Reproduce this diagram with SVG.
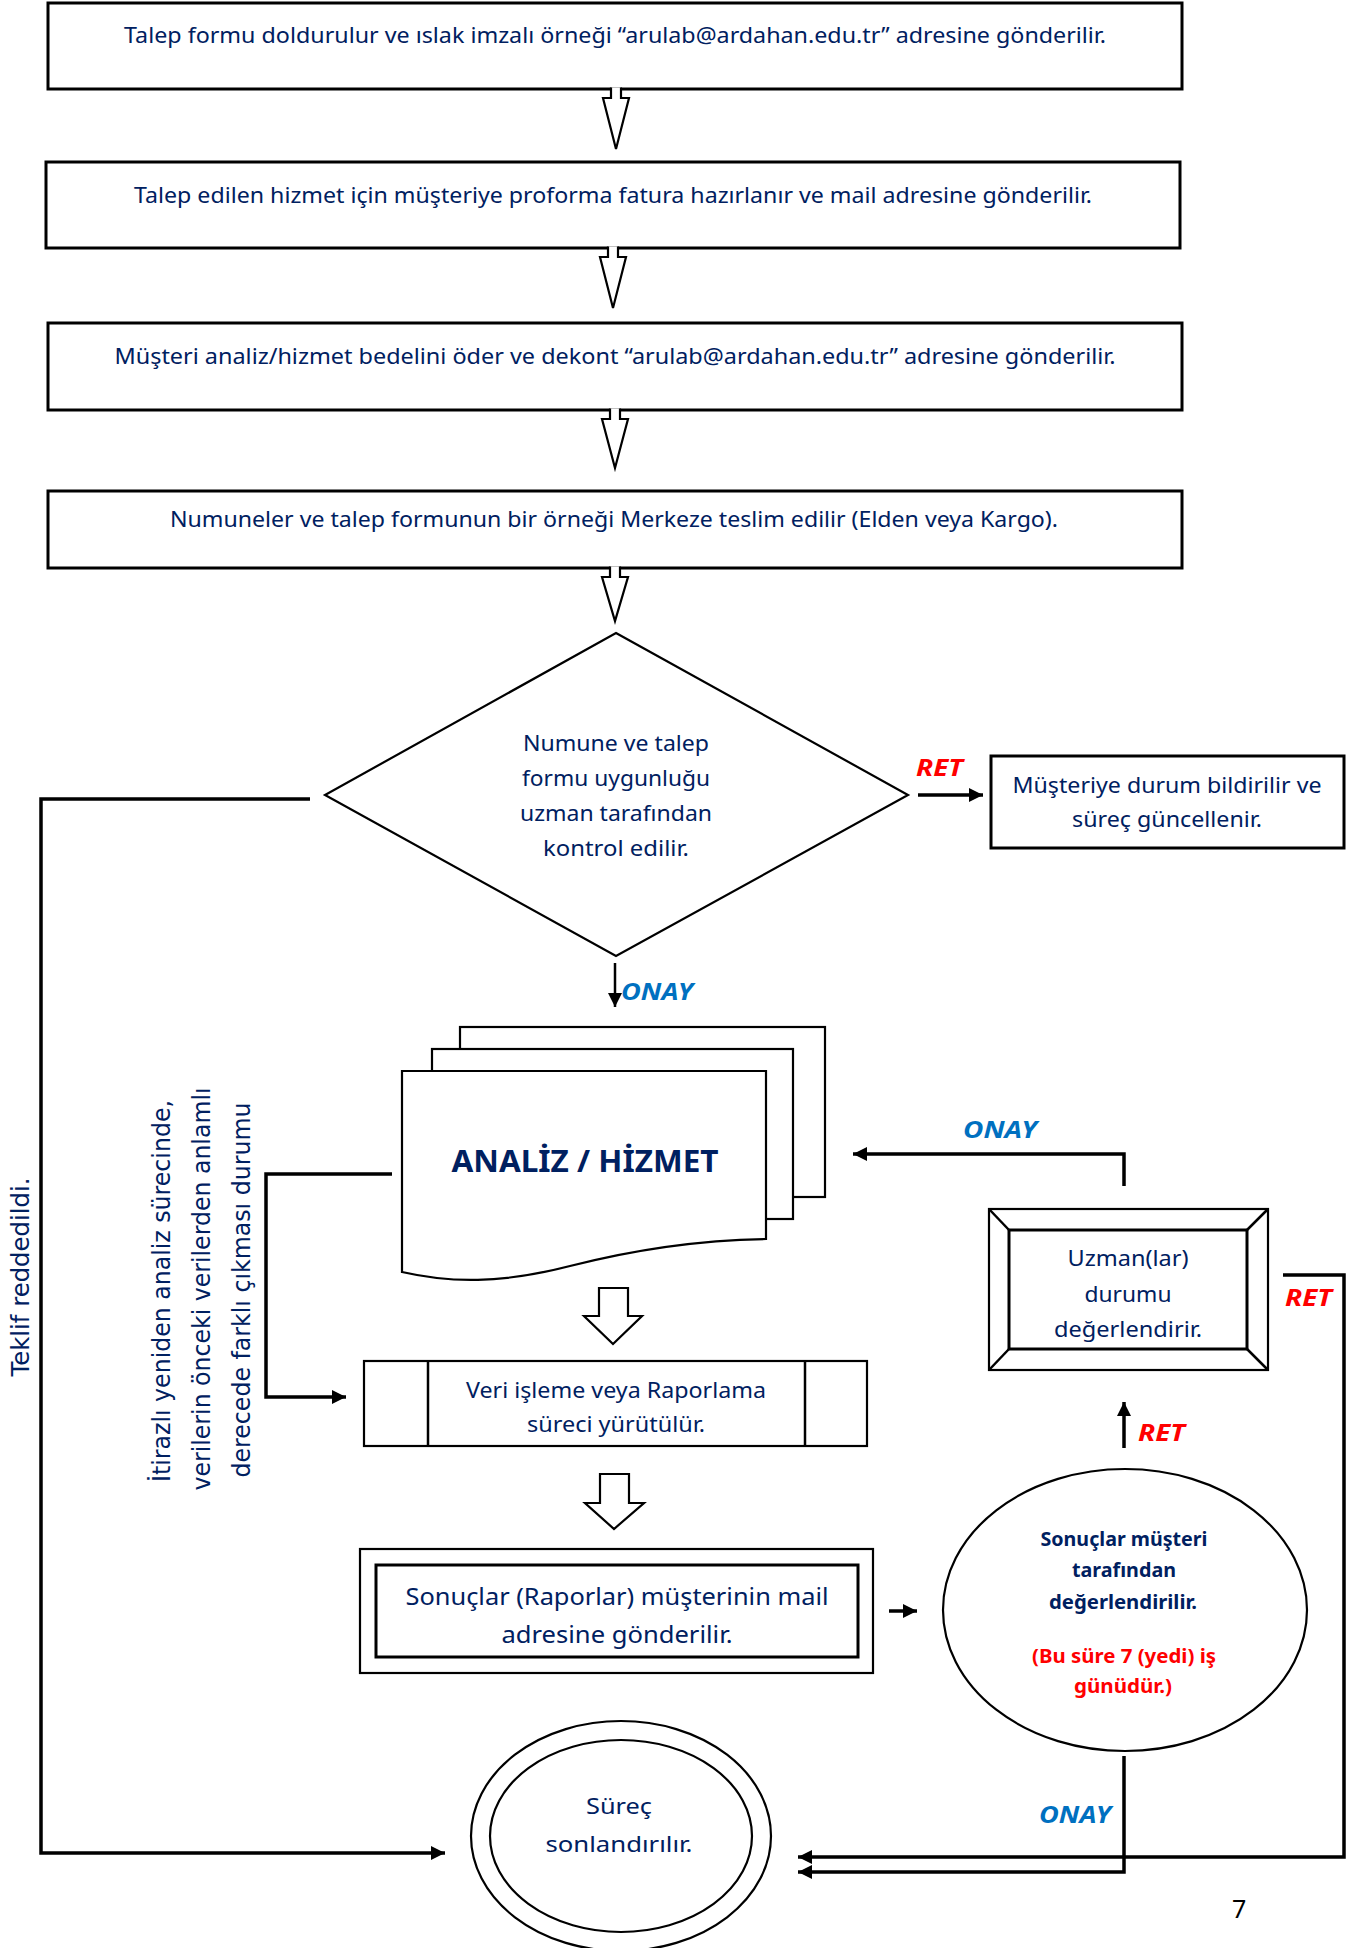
<svg xmlns="http://www.w3.org/2000/svg" width="1360" height="1948" viewBox="0 0 1360 1948">
<style>
.bg{fill:#fff}
.box{fill:#fff;stroke:#000;stroke-width:3}
.thin{fill:#fff;stroke:#000;stroke-width:2.2}
.t{font-family:"Noto Sans","Open Sans","Liberation Sans",sans-serif;font-size:21px;fill:#002060;text-anchor:middle}
.tb{font-family:"Noto Sans","Open Sans","Liberation Sans",sans-serif;font-size:19px;font-weight:bold;fill:#002060;text-anchor:middle}
.red{fill:#ff0000}
.rot{font-family:"DejaVu Sans","Verdana",sans-serif;font-size:24px;fill:#002060;text-anchor:middle}
.onay{font-family:"Noto Sans","Open Sans","Liberation Sans",sans-serif;font-size:23px;font-weight:bold;font-style:italic;fill:#0070c0}
.ret{font-family:"Noto Sans","Open Sans","Liberation Sans",sans-serif;font-size:23px;font-weight:bold;font-style:italic;fill:#ff0000}
.ln{fill:none;stroke:#000;stroke-width:3.5}
.ln2{fill:none;stroke:#000;stroke-width:2.5}
.barrow{fill:#fff;stroke:#000;stroke-width:2.2;stroke-linejoin:miter}
</style>
<defs>
<marker id="ah" markerUnits="userSpaceOnUse" markerWidth="16" markerHeight="16" refX="14" refY="7" orient="auto">
<path d="M0,0 L14,7 L0,14 Z" fill="#000"/>
</marker>
</defs>
<rect class="bg" x="0" y="0" width="1360" height="1948"/>

<g id="n1">
<rect class="box" x="48" y="3" width="1134" height="86"/>
<text class="t" x="615" y="43" textLength="982" lengthAdjust="spacingAndGlyphs">Talep formu doldurulur ve ıslak imzalı örneği “arulab@ardahan.edu.tr” adresine gönderilir.</text>
</g>
<g id="n2">
<rect class="box" x="46" y="162" width="1134" height="86"/>
<text class="t" x="613" y="203" textLength="958" lengthAdjust="spacingAndGlyphs">Talep edilen hizmet için müşteriye proforma fatura hazırlanır ve mail adresine gönderilir.</text>
</g>
<g id="n3">
<rect class="box" x="48" y="323" width="1134" height="87"/>
<text class="t" x="615" y="364" textLength="1001" lengthAdjust="spacingAndGlyphs">Müşteri analiz/hizmet bedelini öder ve dekont “arulab@ardahan.edu.tr” adresine gönderilir.</text>
</g>
<g id="n4">
<rect class="box" x="48" y="491" width="1134" height="77"/>
<text class="t" x="614" y="527" textLength="888" lengthAdjust="spacingAndGlyphs">Numuneler ve talep formunun bir örneği Merkeze teslim edilir (Elden veya Kargo).</text>
</g>
<g id="n5">
<polygon class="thin" points="616,633 908,795 616,956 325,795"/>
<text class="t" x="616" y="751" textLength="186" lengthAdjust="spacingAndGlyphs">Numune ve talep</text>
<text class="t" x="616" y="786" textLength="188" lengthAdjust="spacingAndGlyphs">formu uygunluğu</text>
<text class="t" x="616" y="821" textLength="192" lengthAdjust="spacingAndGlyphs">uzman tarafından</text>
<text class="t" x="616" y="856" textLength="146" lengthAdjust="spacingAndGlyphs">kontrol edilir.</text>
</g>
<g id="n6">
<rect class="box" x="991" y="756" width="353" height="92"/>
<text class="t" x="1167" y="793" textLength="309" lengthAdjust="spacingAndGlyphs">Müşteriye durum bildirilir ve</text>
<text class="t" x="1167" y="827" textLength="190" lengthAdjust="spacingAndGlyphs">süreç güncellenir.</text>
</g>
<g id="n7">
<rect class="thin" x="460" y="1027" width="365" height="170"/>
<rect class="thin" x="432" y="1049" width="361" height="170"/>
<path class="thin" d="M402,1071 H766 V1239 C700,1240 640,1248 570,1266 C500,1284 450,1283 402,1272 Z"/>
<text class="tb" x="585" y="1172" style="font-size:31px" textLength="267" lengthAdjust="spacingAndGlyphs">ANALİZ / HİZMET</text>
</g>
<g id="n8">
<rect class="thin" x="364" y="1361" width="503" height="85"/>
<line class="ln2" x1="428" y1="1361" x2="428" y2="1446"/>
<line class="ln2" x1="805" y1="1361" x2="805" y2="1446"/>
<text class="t" x="616" y="1398" textLength="300" lengthAdjust="spacingAndGlyphs">Veri işleme veya Raporlama</text>
<text class="t" x="616" y="1432" textLength="178" lengthAdjust="spacingAndGlyphs">süreci yürütülür.</text>
</g>
<g id="n9">
<rect class="thin" x="360" y="1549" width="513" height="124"/>
<rect class="box" x="376" y="1565" width="482" height="92"/>
<text class="t" x="617" y="1605" style="font-size:23px" textLength="423" lengthAdjust="spacingAndGlyphs">Sonuçlar (Raporlar) müşterinin mail</text>
<text class="t" x="617" y="1643" style="font-size:23px" textLength="231" lengthAdjust="spacingAndGlyphs">adresine gönderilir.</text>
</g>
<g id="n10">
<rect class="thin" x="989" y="1209" width="279" height="161"/>
<rect class="box" x="1009" y="1230" width="238" height="119"/>
<line class="ln2" x1="989" y1="1209" x2="1009" y2="1230"/>
<line class="ln2" x1="1268" y1="1209" x2="1247" y2="1230"/>
<line class="ln2" x1="989" y1="1370" x2="1009" y2="1349"/>
<line class="ln2" x1="1268" y1="1370" x2="1247" y2="1349"/>
<text class="t" x="1128" y="1266" textLength="121" lengthAdjust="spacingAndGlyphs">Uzman(lar)</text>
<text class="t" x="1128" y="1302" textLength="87" lengthAdjust="spacingAndGlyphs">durumu</text>
<text class="t" x="1128" y="1337" textLength="148" lengthAdjust="spacingAndGlyphs">değerlendirir.</text>
</g>
<g id="n11">
<ellipse class="thin" cx="1125" cy="1610" rx="182" ry="141"/>
<text class="tb" x="1124" y="1546" textLength="167" lengthAdjust="spacingAndGlyphs">Sonuçlar müşteri</text>
<text class="tb" x="1124" y="1577" textLength="104" lengthAdjust="spacingAndGlyphs">tarafından</text>
<text class="tb" x="1123" y="1609" textLength="148" lengthAdjust="spacingAndGlyphs">değerlendirilir.</text>
<text class="tb red" x="1124" y="1663" textLength="184" lengthAdjust="spacingAndGlyphs">(Bu süre 7 (yedi) iş</text>
<text class="tb red" x="1123" y="1693" textLength="98" lengthAdjust="spacingAndGlyphs">günüdür.)</text>
</g>
<g id="n12">
<ellipse class="thin" cx="621" cy="1836" rx="150" ry="115"/>
<ellipse class="thin" cx="621" cy="1836" rx="131" ry="96"/>
<text class="t" x="619" y="1814" textLength="66" lengthAdjust="spacingAndGlyphs">Süreç</text>
<text class="t" x="619" y="1852" textLength="147" lengthAdjust="spacingAndGlyphs">sonlandırılır.</text>
</g>

<g id="labels">
<text class="rot" transform="translate(29,1277) rotate(-90)" textLength="199" lengthAdjust="spacingAndGlyphs">Teklif reddedildi.</text>
<text class="rot" transform="translate(170,1291) rotate(-90)" textLength="382" lengthAdjust="spacingAndGlyphs">İtirazlı yeniden analiz sürecinde,</text>
<text class="rot" transform="translate(210,1289) rotate(-90)" textLength="403" lengthAdjust="spacingAndGlyphs">verilerin önceki verilerden anlamlı</text>
<text class="rot" transform="translate(250,1290) rotate(-90)" textLength="375" lengthAdjust="spacingAndGlyphs">derecede farklı çıkması durumu</text>
<text class="ret" x="916" y="776" textLength="47" lengthAdjust="spacingAndGlyphs">RET</text>
<text class="onay" x="621" y="1000" textLength="72" lengthAdjust="spacingAndGlyphs">ONAY</text>
<text class="onay" x="963" y="1138" textLength="74" lengthAdjust="spacingAndGlyphs">ONAY</text>
<text class="ret" x="1285" y="1306" textLength="47" lengthAdjust="spacingAndGlyphs">RET</text>
<text class="ret" x="1138" y="1441" textLength="47" lengthAdjust="spacingAndGlyphs">RET</text>
<text class="onay" x="1039" y="1823" textLength="72" lengthAdjust="spacingAndGlyphs">ONAY</text>
<text x="1232" y="1918" style="font-family:'Noto Sans','Liberation Sans',sans-serif;font-size:25px;fill:#000">7</text>
</g>

<g id="connectors">
<path class="barrow" d="M611,87.5 V98 H603 L616,149 L629,98 H621 V87.5"/>
<path class="barrow" d="M608,246.5 V257 H600 L613,308 L626,257 H618 V246.5"/>
<path class="barrow" d="M610,408.5 V419 H602 L615,468 L628,419 H620 V408.5"/>
<path class="barrow" d="M610,566.5 V577 H602 L615,621 L628,577 H620 V566.5"/>
<polygon class="barrow" points="599,1288 628,1288 628,1316 642,1316 613,1344 584,1316 599,1316"/>
<polygon class="barrow" points="600,1474 629,1474 629,1503 644,1503 614,1529 585,1503 600,1503"/>
<polyline class="ln" points="310,799 41,799 41,1853 445,1853" marker-end="url(#ah)"/>
<line class="ln" x1="918" y1="795" x2="983" y2="795" marker-end="url(#ah)"/>
<line class="ln2" x1="615" y1="963" x2="615" y2="1007" marker-end="url(#ah)"/>
<polyline class="ln" points="392,1174 266,1174 266,1397 346,1397" marker-end="url(#ah)"/>
<line class="ln" x1="889" y1="1611" x2="917" y2="1611" marker-end="url(#ah)"/>
<polyline class="ln" points="1124,1186 1124,1154 853,1154" marker-end="url(#ah)"/>
<line class="ln" x1="1124" y1="1448" x2="1124" y2="1402" marker-end="url(#ah)"/>
<polyline class="ln" points="1283,1275 1344,1275 1344,1857 798,1857" marker-end="url(#ah)"/>
<polyline class="ln" points="1124,1756 1124,1872 798,1872" marker-end="url(#ah)"/>
</g>
</svg>
